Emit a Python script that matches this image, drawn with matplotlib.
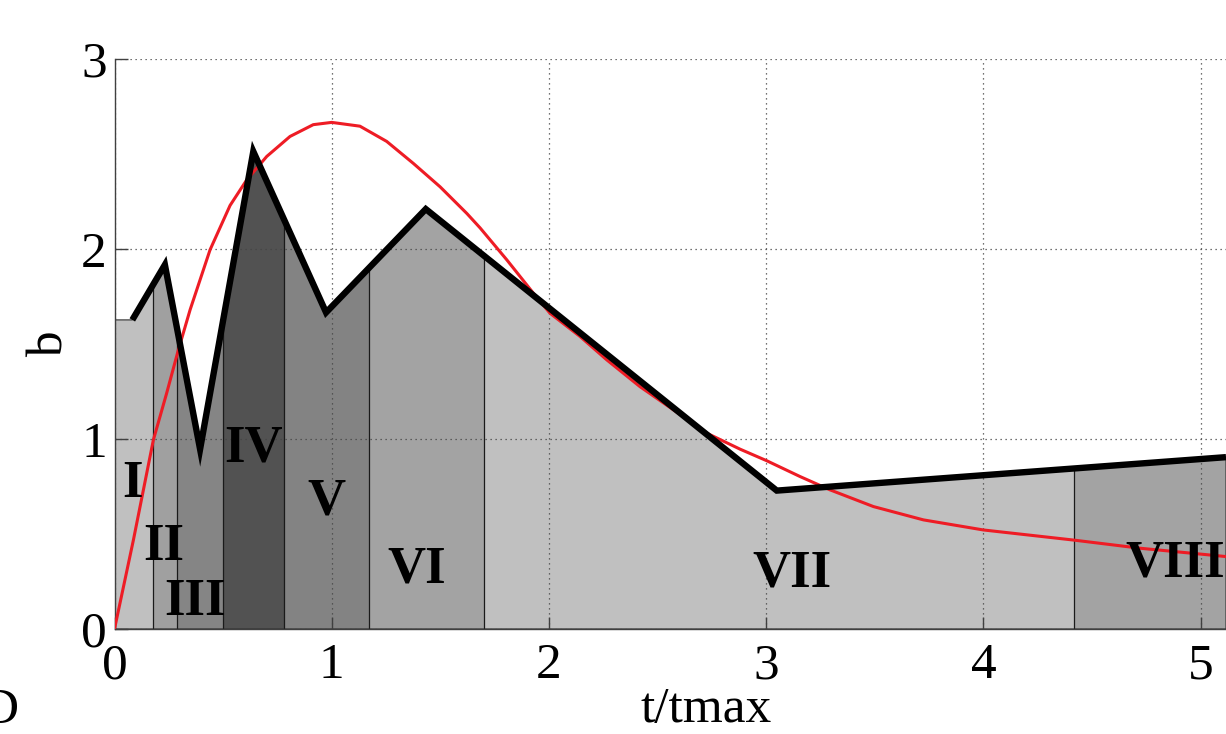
import numpy as np
import matplotlib
matplotlib.use("Agg")
import matplotlib.pyplot as plt

# ---------------- data ----------------
# reference (red) curve
red_t = [0.000, 0.087, 0.179, 0.240, 0.294, 0.348, 0.440, 0.532, 0.609, 0.701,
         0.808, 0.915, 1.000, 1.130, 1.253, 1.376, 1.499, 1.622, 1.683, 1.806,
         1.928, 2.005, 2.143, 2.266, 2.419, 2.573, 2.727, 2.880, 3.003, 3.156,
         3.294, 3.494, 3.724, 4.000, 4.414, 4.721, 5.117]
red_b = [0.000, 0.468, 0.995, 1.240, 1.468, 1.679, 1.995, 2.228, 2.363, 2.486,
         2.591, 2.653, 2.665, 2.645, 2.565, 2.449, 2.326, 2.186, 2.110, 1.942,
         1.767, 1.661, 1.539, 1.416, 1.275, 1.153, 1.030, 0.946, 0.885, 0.802,
         0.732, 0.644, 0.574, 0.521, 0.468, 0.425, 0.381]

# piecewise-linear (black) curve vertices
blk_t = [0.082, 0.232, 0.394, 0.639, 0.974, 1.433, 3.049, 5.117]
blk_b = [1.626, 1.916, 0.946, 2.512, 1.665, 2.209, 0.728, 0.904]

# phase regions
region_names = ["I", "II", "III", "IV", "V", "VI", "VII", "VIII"]
region_edges = [0.0, 0.176, 0.289, 0.498, 0.779, 1.170, 1.703, 4.418, 5.117]
region_grays = ["#c0c0c0", "#a0a0a0", "#858585", "#525252",
                "#838383", "#a3a3a3", "#c0c0c0", "#a3a3a3"]

x_ticks = [0, 1, 2, 3, 4, 5]
y_ticks = [0, 1, 2, 3]

# ---------------- layout ----------------
W, H = 1226, 734
fig = plt.figure(figsize=(W / 100, H / 100), dpi=100)
ax_l, ax_r, ax_b, ax_t = 114.5, 1226, 629, 58.7
ax = fig.add_axes([ax_l / W, (H - ax_b) / H, (ax_r - ax_l) / W, (ax_b - ax_t) / H])
ax.set_xlim(0, 5.117)
ax.set_ylim(0, 3)

serif = ["Liberation Serif", "DejaVu Serif"]

# area under the black curve (used as clip path)
poly_x = [0.0, 0.0] + blk_t + [blk_t[-1]]
poly_y = [0.0, blk_b[0]] + blk_b + [0.0]
area = ax.fill(poly_x, poly_y, facecolor="none", edgecolor="#303030",
               linewidth=0.8, zorder=1.2)[0]

for i, g in enumerate(region_grays):
    span = ax.axvspan(region_edges[i], region_edges[i + 1], color=g,
                      linewidth=0, zorder=1)
    span.set_clip_path(area)

vl = ax.vlines(region_edges[1:-1], 0, 3, colors="#1a1a1a", linewidth=0.9,
               zorder=1.3)
vl.set_clip_path(area)

ax.plot(red_t, red_b, color="#ee1c25", linewidth=2.2, zorder=3,
        solid_capstyle="butt", solid_joinstyle="round")
ax.plot(blk_t, blk_b, color="black", linewidth=4.6, zorder=4,
        solid_joinstyle="miter", solid_capstyle="butt")

# region labels
lab_x = [0.083, 0.228, 0.371, 0.640, 0.976, 1.393, 3.120, 4.652]
lab_y = [0.695, 0.363, 0.074, 0.879, 0.600, 0.247, 0.221, 0.274]
lab_ha = ["center"] * 7 + ["left"]
for name, x, y, ha in zip(region_names, lab_x, lab_y, lab_ha):
    ax.text(x, y, name, ha=ha, va="baseline", fontsize=38,
            fontweight="bold", family=serif, zorder=5, clip_on=False)

# axes styling
ax.set_axisbelow(False)
ax.grid(True, color="#444444", linestyle=(0, (1, 3)), linewidth=0.9)
for s in ["top", "right"]:
    ax.spines[s].set_visible(False)
for s in ["left", "bottom"]:
    ax.spines[s].set_color("#404040")
    ax.spines[s].set_linewidth(1.0)
    ax.spines[s].set_zorder(2.6)

ax.set_xticks(x_ticks)
ax.set_yticks(y_ticks)
ax.set_xticklabels([str(v) for v in x_ticks])
ax.set_yticklabels([str(v) for v in y_ticks])
ax.tick_params(axis="both", direction="in", length=9, width=1.0,
               color="#404040", labelsize=37)
ax.tick_params(axis="x", pad=10)
ax.tick_params(axis="y", pad=5.5)
for lbl in ax.get_xticklabels() + ax.get_yticklabels():
    lbl.set_family(serif)

fig.text(706 / W, 1 - 722 / H, "t/tmax", ha="center", va="baseline",
         fontsize=37, family=serif)
fig.text(50 / W, 1 - 344 / H, "b", ha="center", va="center", rotation=90,
         fontsize=37, family=serif)
fig.text(19 / W, 1 - 723 / H, "D", ha="right", va="baseline",
         fontsize=37, family=serif)

fig.savefig("out.png", dpi=100)
